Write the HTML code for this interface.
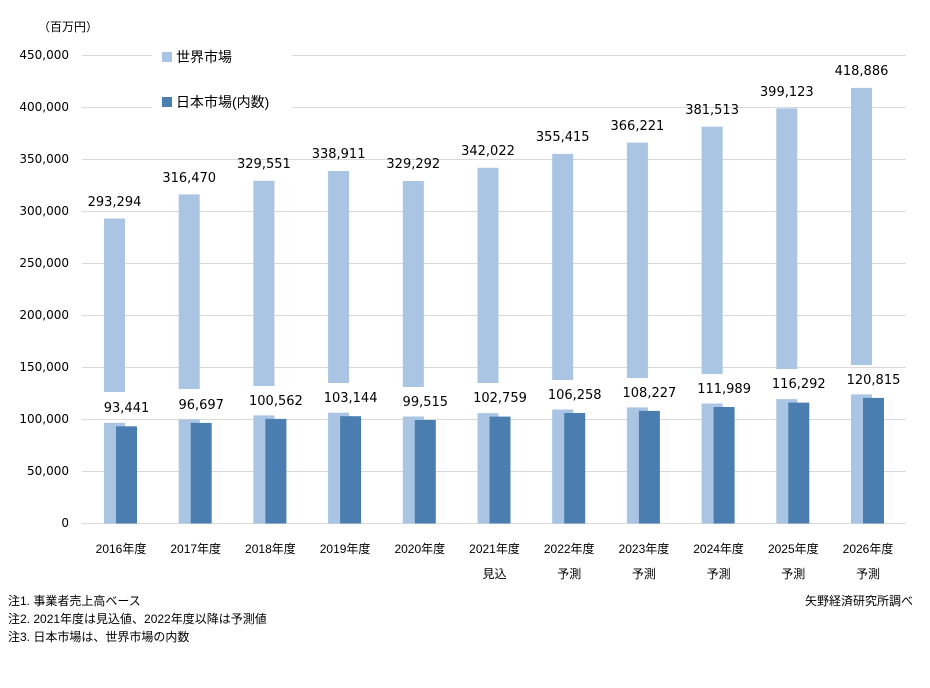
<!DOCTYPE html>
<html><head><meta charset="utf-8"><style>
body{margin:0;background:#fff;}
svg{display:block;font-family:"Liberation Sans","Noto Sans CJK JP",sans-serif;}
.t{font-size:12px;fill:#000;}
.v{font-size:13px;fill:#000;text-anchor:middle;font-family:"DejaVu Sans",sans-serif;}
.c{font-size:12px;fill:#000;text-anchor:middle;}
.y{font-size:12px;fill:#000;text-anchor:end;font-family:"DejaVu Sans",sans-serif;}
.g{stroke:#d9d9d9;stroke-width:1;}
</style></head><body>
<svg width="930" height="688" viewBox="0 0 930 688">
<g class="g">
<line x1="82" x2="906" y1="55.5" y2="55.5"/><line x1="82" x2="906" y1="107.5" y2="107.5"/>
<line x1="82" x2="906" y1="159.5" y2="159.5"/><line x1="82" x2="906" y1="211.5" y2="211.5"/>
<line x1="82" x2="906" y1="263.5" y2="263.5"/><line x1="82" x2="906" y1="315.5" y2="315.5"/>
<line x1="82" x2="906" y1="367.5" y2="367.5"/><line x1="82" x2="906" y1="419.5" y2="419.5"/>
<line x1="82" x2="906" y1="471.5" y2="471.5"/><line x1="82" x2="906" y1="523.5" y2="523.5"/>
</g>
<g class="y">
<text x="69" y="59">450,000</text><text x="69" y="111">400,000</text><text x="69" y="163">350,000</text>
<text x="69" y="215">300,000</text><text x="69" y="267">250,000</text><text x="69" y="319">200,000</text>
<text x="69" y="371">150,000</text><text x="69" y="423">100,000</text><text x="69" y="475">50,000</text>
<text x="69" y="527">0</text>
</g>
<text class="t" x="38" y="31">（百万円）</text>
<rect x="152" y="40" width="140" height="80" fill="#fff"/>
<rect x="162" y="52" width="10" height="10" fill="#a9c4e4"/>
<text x="176" y="62" style="font-size:14px">世界市場</text>
<rect x="162" y="97" width="10" height="10" fill="#4a7eb0"/>
<text x="176" y="107" style="font-size:14px">日本市場(内数)</text>

<g fill="#aac4e4">
<rect x="104" y="218.5" width="21" height="173.5"/><rect x="104" y="422.8" width="21" height="100.7"/>
<rect x="178.7" y="194.4" width="21" height="194.6"/><rect x="178.7" y="419.4" width="21" height="104.1"/>
<rect x="253.4" y="180.8" width="21" height="205.2"/><rect x="253.4" y="415.4" width="21" height="108.1"/>
<rect x="328.1" y="171" width="21" height="212"/><rect x="328.1" y="412.7" width="21" height="110.8"/>
<rect x="402.8" y="181" width="21" height="206"/><rect x="402.8" y="416.5" width="21" height="107"/>
<rect x="477.5" y="167.8" width="21" height="215.2"/><rect x="477.5" y="413.1" width="21" height="110.4"/>
<rect x="552.2" y="153.9" width="21" height="226.1"/><rect x="552.2" y="409.5" width="21" height="114"/>
<rect x="626.9" y="142.6" width="21" height="235.4"/><rect x="626.9" y="407.4" width="21" height="116.1"/>
<rect x="701.6" y="126.7" width="21" height="247.3"/><rect x="701.6" y="403.5" width="21" height="120"/>
<rect x="776.3" y="108.4" width="21" height="260.6"/><rect x="776.3" y="399.1" width="21" height="124.4"/>
<rect x="851" y="87.9" width="21" height="277.1"/><rect x="851" y="394.4" width="21" height="129.1"/>
</g>
<g fill="#4a7eb0">
<rect x="116" y="426.3" width="21" height="97.2"/>
<rect x="190.7" y="422.9" width="21" height="100.6"/>
<rect x="265.4" y="418.9" width="21" height="104.6"/>
<rect x="340.1" y="416.2" width="21" height="107.3"/>
<rect x="414.8" y="420" width="21" height="103.5"/>
<rect x="489.5" y="416.6" width="21" height="106.9"/>
<rect x="564.2" y="413" width="21" height="110.5"/>
<rect x="638.9" y="410.9" width="21" height="112.6"/>
<rect x="713.6" y="407" width="21" height="116.5"/>
<rect x="788.3" y="402.6" width="21" height="120.9"/>
<rect x="863" y="397.9" width="21" height="125.6"/>
</g>
<g class="v">
<text x="114.5" y="206">293,294</text><text x="189.2" y="182">316,470</text><text x="263.9" y="168">329,551</text>
<text x="338.6" y="158">338,911</text><text x="413.3" y="168">329,292</text><text x="488" y="155">342,022</text>
<text x="562.7" y="141">355,415</text><text x="637.4" y="130">366,221</text><text x="712.1" y="114">381,513</text>
<text x="786.8" y="96">399,123</text><text x="861.5" y="75">418,886</text>
<text x="126.5" y="412">93,441</text><text x="201.2" y="409">96,697</text><text x="275.9" y="405">100,562</text>
<text x="350.6" y="402">103,144</text><text x="425.3" y="406">99,515</text><text x="500" y="402">102,759</text>
<text x="574.7" y="399">106,258</text><text x="649.4" y="397">108,227</text><text x="724.1" y="393">111,989</text>
<text x="798.8" y="388">116,292</text><text x="873.5" y="384">120,815</text>
</g>
<g class="c">
<text x="121" y="553">2016年度</text><text x="195.7" y="553">2017年度</text><text x="270.4" y="553">2018年度</text>
<text x="345.1" y="553">2019年度</text><text x="419.8" y="553">2020年度</text><text x="494.5" y="553">2021年度</text>
<text x="569.2" y="553">2022年度</text><text x="643.9" y="553">2023年度</text><text x="718.6" y="553">2024年度</text>
<text x="793.3" y="553">2025年度</text><text x="868" y="553">2026年度</text>
<text x="494.5" y="578">見込</text><text x="569.2" y="578">予測</text><text x="643.9" y="578">予測</text>
<text x="718.6" y="578">予測</text><text x="793.3" y="578">予測</text><text x="868" y="578">予測</text>
</g>
<text class="t" x="8" y="605">注1.  事業者売上高ベース</text>
<text class="t" x="8" y="623">注2.  2021年度は見込値、2022年度以降は予測値</text>
<text class="t" x="8" y="641">注3.  日本市場は、世界市場の内数</text>
<text class="t" x="913" y="605" text-anchor="end">矢野経済研究所調べ</text>
</svg>
</body></html>
